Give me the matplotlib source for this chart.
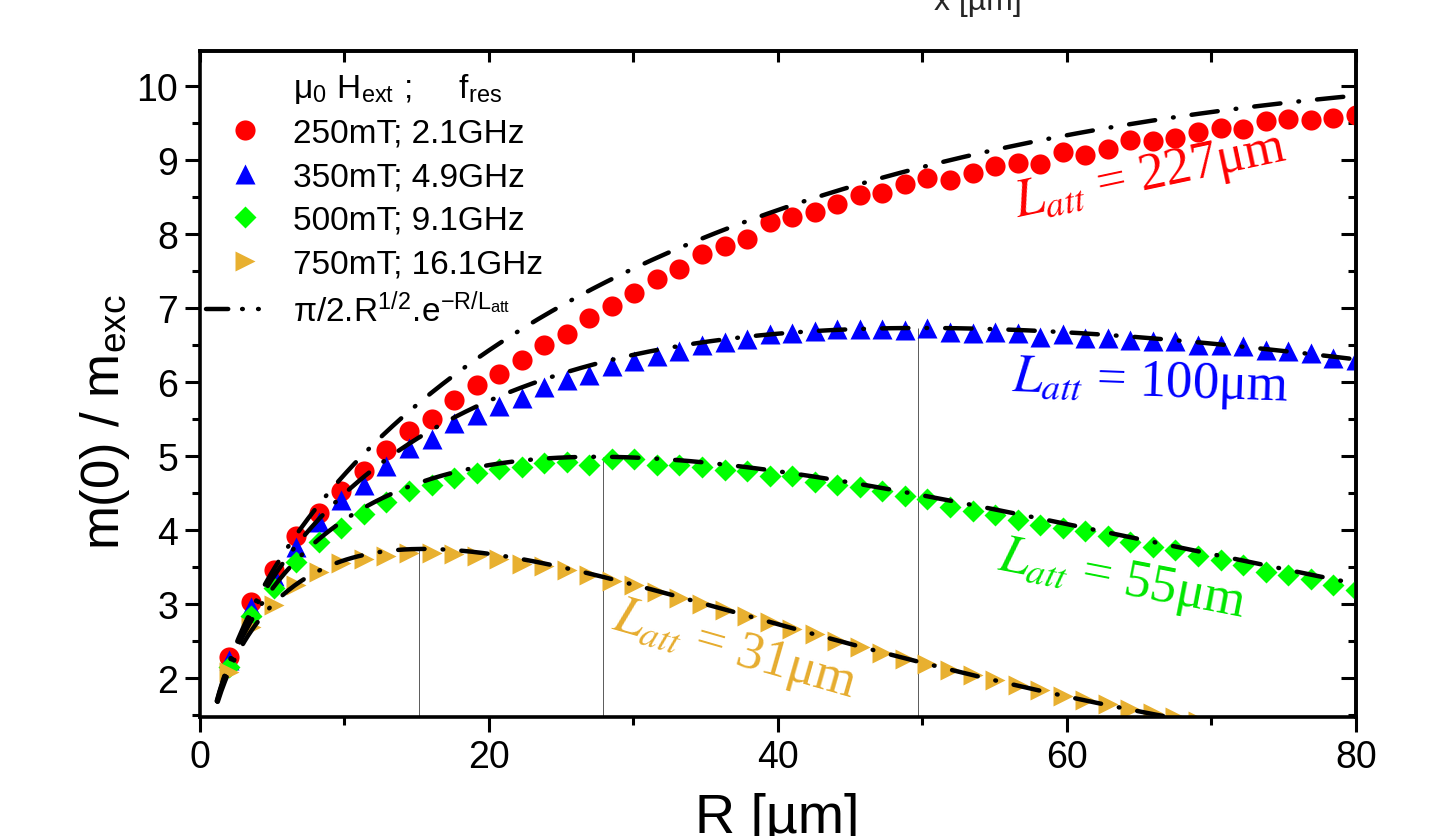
import matplotlib
matplotlib.use('Agg')
import matplotlib.pyplot as plt
import numpy as np
from matplotlib.lines import Line2D
from matplotlib.ticker import MultipleLocator

plt.rcParams['font.family'] = ['Liberation Sans', 'DejaVu Sans']
plt.rcParams['mathtext.fontset'] = 'stix'
plt.rcParams['lines.scale_dashes'] = False

# sample radii (um)
R = [2.00, 3.56, 5.12, 6.68, 8.24, 9.80, 11.36, 12.92, 14.48, 16.04,
     17.60, 19.16, 20.72, 22.28, 23.84, 25.40, 26.96, 28.52, 30.08, 31.64,
     33.20, 34.76, 36.32, 37.88, 39.44, 41.00, 42.56, 44.12, 45.68, 47.24,
     48.80, 50.36, 51.92, 53.48, 55.04, 56.60, 58.16, 59.72, 61.28, 62.84,
     64.40, 65.96, 67.52, 69.08, 70.64, 72.20, 73.76, 75.32, 76.88, 78.44,
     80.00]

m_250 = [2.29, 3.04, 3.47, 3.93, 4.23, 4.54, 4.80, 5.09, 5.34, 5.51,
         5.76, 5.96, 6.11, 6.31, 6.50, 6.65, 6.87, 7.04, 7.21, 7.40,
         7.54, 7.74, 7.85, 7.94, 8.17, 8.23, 8.30, 8.41, 8.53, 8.56,
         8.68, 8.77, 8.74, 8.83, 8.92, 8.97, 8.95, 9.11, 9.08, 9.15,
         9.28, 9.26, 9.31, 9.38, 9.44, 9.42, 9.53, 9.56, 9.55, 9.58,
         9.62]

m_350 = [2.25, 2.97, 3.38, 3.78, 4.12, 4.41, 4.62, 4.87, 5.11, 5.24,
         5.45, 5.56, 5.68, 5.79, 5.94, 6.03, 6.10, 6.22, 6.29, 6.36,
         6.42, 6.51, 6.55, 6.59, 6.65, 6.67, 6.69, 6.72, 6.72, 6.72,
         6.71, 6.74, 6.68, 6.67, 6.68, 6.67, 6.62, 6.65, 6.60, 6.60,
         6.57, 6.56, 6.56, 6.51, 6.50, 6.49, 6.44, 6.43, 6.40, 6.33,
         6.31]

m_500 = [2.16, 2.84, 3.22, 3.58, 3.85, 4.04, 4.22, 4.39, 4.53, 4.62,
         4.71, 4.78, 4.83, 4.86, 4.91, 4.93, 4.89, 4.96, 4.96, 4.89,
         4.89, 4.86, 4.82, 4.80, 4.74, 4.73, 4.66, 4.62, 4.59, 4.53,
         4.47, 4.42, 4.32, 4.26, 4.21, 4.14, 4.08, 4.03, 3.99, 3.92,
         3.85, 3.78, 3.74, 3.65, 3.60, 3.53, 3.44, 3.40, 3.35, 3.26,
         3.20]

m_750 = [2.09, 2.70, 2.99, 3.26, 3.44, 3.56, 3.62, 3.66, 3.70, 3.69,
         3.68, 3.65, 3.61, 3.55, 3.52, 3.46, 3.40, 3.32, 3.26, 3.17,
         3.09, 3.01, 2.93, 2.84, 2.76, 2.67, 2.60, 2.51, 2.43, 2.35,
         2.27, 2.20, 2.12, 2.05, 1.98, 1.91, 1.84, 1.77, 1.71, 1.65,
         1.59, 1.53, 1.48, 1.42]

labels = ['250mT; 2.1GHz', '350mT; 4.9GHz', '500mT; 9.1GHz', '750mT; 16.1GHz']
L_att = [227, 100, 55, 31]
peak_R = [15.2, 27.9, 49.7]
peak_top = [3.75, 4.99, 6.74]

red = '#ff0000'
blue = '#0000ff'
green = '#00ff00'
orange = '#e8b030'

fig = plt.figure(figsize=(14.42, 8.37), dpi=100)
ax = fig.add_axes([0.1385, 0.1422, 0.8017, 0.7957])

ax.vlines(peak_R, 1.48, peak_top, color='0.35', lw=0.7, zorder=1)

ax.plot(R, m_250, 'o', color=red, ms=14.5, mec='none', zorder=2)
ax.plot(R, m_350, '^', color=blue, ms=15, mec='none', zorder=2)
ax.plot(R, m_500, 'D', color=green, ms=11.5, mec='none', zorder=2)
ax.plot(R[:len(m_750)], m_750, '>', color=orange, ms=15, mec='none', zorder=2)

# fit curves pi/2 * sqrt(R) * exp(-R/L_att)
R_fit = np.linspace(0.3, 80, 600)
dash = (19, 13, 0.5, 13)
for L in L_att:
    ax.plot(R_fit, np.pi / 2 * np.sqrt(R_fit) * np.exp(-R_fit / L), color='k',
            lw=3.2, dashes=dash, dash_capstyle='round', zorder=3)

ax.set_xlim(0, 80)
ax.set_ylim(1.48, 10.48)
ax.set_xticks([0, 20, 40, 60, 80])
ax.set_yticks([2, 3, 4, 5, 6, 7, 8, 9, 10])
ax.xaxis.set_minor_locator(MultipleLocator(10))
ax.yaxis.set_minor_locator(MultipleLocator(0.5))
ax.tick_params(which='major', direction='out', length=10.5, width=2.2, labelsize=27, pad=5)
ax.tick_params(which='minor', direction='out', length=5.5, width=2.2)
for s in ax.spines.values():
    s.set_linewidth(2.6)

top = ax.secondary_xaxis('top')
top.set_xticks([0, 20, 40, 60, 80])
top.xaxis.set_minor_locator(MultipleLocator(10))
top.tick_params(which='both', direction='in', length=8, width=2.2, labeltop=False)
top.spines['top'].set_linewidth(2.6)

right = ax.secondary_yaxis('right')
right.set_yticks([2, 3, 4, 5, 6, 7, 8, 9, 10])
right.yaxis.set_minor_locator(MultipleLocator(0.5))
right.tick_params(which='major', direction='in', length=10.5, width=2.2, labelright=False)
right.tick_params(which='minor', direction='in', length=5.5, width=2.2)
right.spines['right'].set_linewidth(2.6)

handles = [Line2D([], [], ls='none'),
           Line2D([], [], ls='none', marker='o', color=red, ms=14.5, mec='none'),
           Line2D([], [], ls='none', marker='^', color=blue, ms=15, mec='none'),
           Line2D([], [], ls='none', marker='D', color=green, ms=11.5, mec='none'),
           Line2D([], [], ls='none', marker='>', color=orange, ms=15, mec='none'),
           Line2D([], [], color='k', lw=3.2, dashes=(16, 10, 0.5, 11, 0.5, 40),
                  dash_capstyle='round')]
leg_labels = [r'μ$_{\mathregular{0}}$ H$_{\mathregular{ext}}$ ;     f$_{\mathregular{res}}$'] + labels + \
             [r'π/2.R$^{\mathregular{1/2}}$.e$^{\mathregular{-R/L_{att}}}$']
ax.legend(handles, leg_labels, loc='upper left', bbox_to_anchor=(0.0, 0.98), frameon=False,
          fontsize=24, handlelength=2.3, handletextpad=0.3, labelspacing=0.38,
          borderpad=0.1, borderaxespad=0.1, numpoints=1)

ann = dict(ha='center', va='center', rotation_mode='anchor', fontsize=38,
           family='Liberation Serif')
ax.text(65.8, 8.8, r'$L_{att}$ = 227μm', color=red, rotation=12, **ann)
ax.text(65.8, 6.0, r'$L_{att}$ = 100μm', color=blue, rotation=-2, **ann)
ax.text(63.8, 3.33, r'$L_{att}$ = 55μm', color='#00e600', rotation=-11, **ann)
ax.text(37.0, 2.38, r'$L_{att}$ = 31μm', color='#e6ac2e', rotation=-16, **ann)

fig.text(105 / 1442, 1 - 422 / 837, r'm(0) / m$_{\mathregular{exc}}$', rotation=90,
         ha='center', va='center', fontsize=38)
fig.text(777 / 1442, 1 - 833 / 837, 'R [µm]', ha='center', va='baseline', fontsize=40)
fig.text(978 / 1442, 1 - 10 / 837, 'x [µm]', ha='center', va='baseline', fontsize=23,
         color='0.15')

fig.savefig('out.png', dpi=100)
